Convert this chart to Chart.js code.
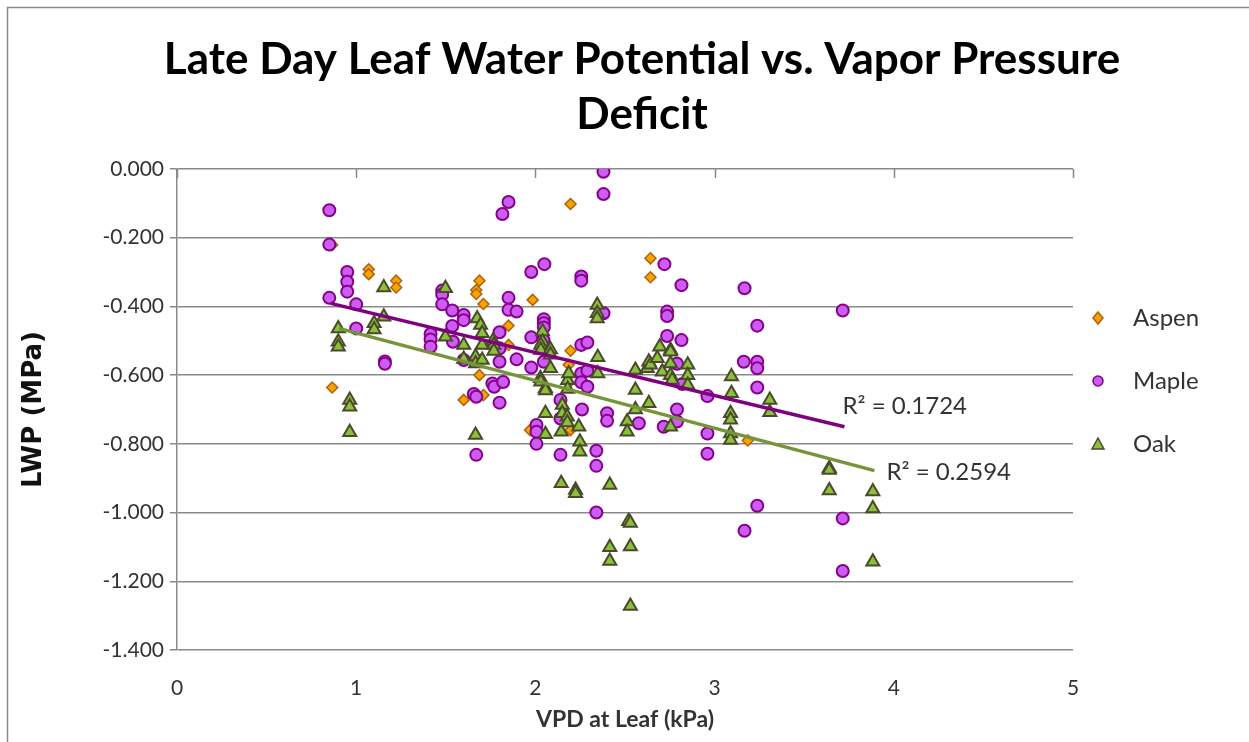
<!DOCTYPE html>
<html>
<head>
<meta charset="utf-8">
<script src="https://cdn.jsdelivr.net/npm/chart.js@4.4.1/dist/chart.umd.min.js"></script>
<style>
  html, body { margin: 0; padding: 0; background: #fff; }
  #wrap { position: relative; width: 1249px; height: 742px; }
</style>
</head>
<body>
<div id="wrap"><canvas id="lwpChart"></canvas></div>
<script>
// values (VPD in kPa, LWP in MPa)
const aspenVpd = [0.866, 0.866, 1.07, 1.07, 1.223, 1.223, 1.688, 1.67, 1.67, 1.71, 1.688, 1.60, 1.71,
  1.85, 1.85, 1.985, 1.97, 2.196, 2.196, 2.186, 2.186, 2.196, 2.642, 2.642, 3.185];
const aspenLwp = [-0.221, -0.636, -0.292, -0.306, -0.325, -0.345, -0.325, -0.352, -0.364, -0.393, -0.600, -0.672, -0.658,
  -0.456, -0.512, -0.381, -0.760, -0.102, -0.529, -0.570, -0.622, -0.760, -0.260, -0.315, -0.790];

const mapleVpd = [0.85, 0.85, 0.85, 0.95, 0.95, 0.95, 1.00, 1.00, 1.16, 1.16,
  1.48, 1.48, 1.48, 1.415, 1.415, 1.415, 1.536, 1.536, 1.54, 1.60, 1.60, 1.60,
  1.656, 1.67, 1.67, 1.76, 1.77, 1.80, 1.80, 1.80, 1.80, 1.82, 1.816, 1.85, 1.85, 1.85,
  1.895, 1.895, 1.977, 1.977, 1.977, 2.006, 2.006, 2.006, 2.05, 2.047, 2.047, 2.047, 2.045, 2.047,
  2.14, 2.14, 2.14, 2.256, 2.256, 2.256, 2.29, 2.256, 2.29, 2.256, 2.29, 2.26,
  2.34, 2.34, 2.34, 2.38, 2.38, 2.38, 2.40, 2.40, 2.577, 2.716, 2.72, 2.735, 2.735, 2.735,
  2.79, 2.79, 2.79, 2.815, 2.815, 2.82, 2.96, 2.96, 2.96, 3.167, 3.163, 3.167,
  3.238, 3.238, 3.238, 3.238, 3.238, 3.715, 3.715, 3.715];
const mapleLwp = [-0.120, -0.220, -0.375, -0.300, -0.328, -0.357, -0.394, -0.464, -0.560, -0.567,
  -0.354, -0.365, -0.394, -0.480, -0.496, -0.517, -0.412, -0.457, -0.503, -0.425, -0.440, -0.556,
  -0.655, -0.663, -0.832, -0.624, -0.634, -0.475, -0.522, -0.561, -0.680, -0.620, -0.131, -0.096, -0.375, -0.410,
  -0.415, -0.554, -0.300, -0.490, -0.578, -0.745, -0.765, -0.800, -0.277, -0.437, -0.449, -0.461, -0.498, -0.561,
  -0.672, -0.726, -0.832, -0.313, -0.325, -0.512, -0.505, -0.595, -0.587, -0.621, -0.634, -0.700,
  -0.820, -0.864, -1.000, -0.008, -0.073, -0.420, -0.711, -0.733, -0.740, -0.750, -0.277, -0.415, -0.428, -0.486,
  -0.567, -0.700, -0.735, -0.338, -0.498, -0.626, -0.661, -0.770, -0.829, -0.347, -0.561, -1.053,
  -0.456, -0.561, -0.580, -0.636, -0.980, -0.412, -1.017, -1.170];

const oakVpd = [0.90, 0.90, 0.90, 0.964, 0.964, 0.964, 1.10, 1.10, 1.154, 1.154,
  1.498, 1.498, 1.60, 1.60, 1.666, 1.666, 1.666, 1.675, 1.694, 1.703, 1.703, 1.703,
  1.764, 1.768, 1.768, 2.04, 2.04, 2.03, 2.03, 2.028, 2.03, 2.056, 2.056, 2.056, 2.056,
  2.084, 2.084, 2.084, 2.144, 2.144, 2.15, 2.15, 2.178, 2.178, 2.18, 2.18, 2.186,
  2.224, 2.224, 2.242, 2.248, 2.248, 2.345, 2.345, 2.345, 2.348, 2.348,
  2.415, 2.415, 2.415, 2.512, 2.512, 2.52, 2.53, 2.53, 2.53, 2.558, 2.558, 2.558,
  2.624, 2.633, 2.633, 2.642, 2.68, 2.694, 2.708, 2.754, 2.754, 2.754, 2.763, 2.754, 2.754,
  2.85, 2.85, 2.85, 3.094, 3.094, 3.089, 3.089, 3.089, 3.089, 3.308, 3.308,
  3.64, 3.64, 3.64, 3.883, 3.883, 3.883];
const oakLwp = [-0.464, -0.503, -0.517, -0.672, -0.692, -0.766, -0.449, -0.467, -0.345, -0.430,
  -0.347, -0.488, -0.512, -0.553, -0.546, -0.566, -0.774, -0.435, -0.454, -0.478, -0.512, -0.556,
  -0.500, -0.512, -0.530, -0.473, -0.503, -0.512, -0.527, -0.609, -0.619, -0.638, -0.645, -0.711, -0.772,
  -0.525, -0.541, -0.580, -0.765, -0.915, -0.687, -0.711, -0.721, -0.738, -0.615, -0.640, -0.595,
  -0.934, -0.944, -0.750, -0.794, -0.823, -0.396, -0.420, -0.435, -0.548, -0.595,
  -0.920, -1.101, -1.141, -0.735, -0.765, -1.025, -1.030, -1.099, -1.272, -0.585, -0.643, -0.700,
  -0.580, -0.561, -0.682, -0.570, -0.551, -0.517, -0.590, -0.527, -0.566, -0.600, -0.614, -0.750, -0.532,
  -0.570, -0.600, -0.629, -0.604, -0.653, -0.711, -0.730, -0.770, -0.789, -0.672, -0.708,
  -0.871, -0.876, -0.936, -0.939, -0.988, -1.143];

// linear trend lines as drawn in the picture (end points)
const mapleTrendVpd = [0.858, 3.725];
const mapleTrendLwp = [-0.391, -0.750];
const oakTrendVpd = [0.903, 3.892];
const oakTrendLwp = [-0.464, -0.878];
const mapleR2 = "R² = 0.1724";
const oakR2 = "R² = 0.2594";

const seriesNames = ["Aspen", "Maple", "Oak"];
const yTicks = [0, -0.2, -0.4, -0.6, -0.8, -1.0, -1.2, -1.4];

const GRID = "#898989";
const TXT = "#333333";

function pairs(xs, ys) {
  return xs.map((x, i) => ({ x: x, y: ys[i] }));
}

// frame round the whole chart, ticks on the x axis line, legend and R² texts
const extras = {
  id: "extras",
  beforeDraw(chart) {
    const ctx = chart.ctx;
    ctx.save();
    ctx.fillStyle = "#fff";
    ctx.fillRect(0, 0, chart.width, chart.height);
    ctx.strokeStyle = "#8c8c8c";
    ctx.lineWidth = 1.5;
    ctx.strokeRect(7.5, 7.5, 1280, 760);
    ctx.restore();
  },
  afterDraw(chart) {
    const ctx = chart.ctx;
    const xs = chart.scales.x, ys = chart.scales.y;
    ctx.save();
    // x axis crosses at 0, ticks point into the plot
    ctx.strokeStyle = GRID;
    ctx.lineWidth = 1.5;
    const y0 = ys.getPixelForValue(0);
    for (let v = 0; v <= 5; v++) {
      const px = Math.round(xs.getPixelForValue(v)) + 0.5;
      ctx.beginPath();
      ctx.moveTo(px, y0);
      ctx.lineTo(px, y0 + 9);
      ctx.stroke();
    }

    // R² labels next to the trend line ends
    ctx.fillStyle = TXT;
    ctx.font = "24px Lato";
    ctx.textBaseline = "middle";
    ctx.textAlign = "left";
    let ex = xs.getPixelForValue(mapleTrendVpd[1]);
    let ey = ys.getPixelForValue(mapleTrendLwp[1]);
    ctx.fillText(mapleR2, ex - 2, ey - 20);
    ex = xs.getPixelForValue(oakTrendVpd[1]);
    ey = ys.getPixelForValue(oakTrendLwp[1]);
    ctx.fillText(oakR2, ex + 12, ey + 2);

    // legend
    const lx = 1098;
    const ly = [318, 381, 444];
    chart.data.datasets.slice(0, 3).forEach((ds, i) => {
      ctx.fillStyle = ds.backgroundColor;
      ctx.strokeStyle = ds.borderColor;
      ctx.lineWidth = 1.5;
      ctx.beginPath();
      if (ds.pointStyle === "rectRot") {
        ctx.moveTo(lx, ly[i] - 6);
        ctx.lineTo(lx + 5, ly[i]);
        ctx.lineTo(lx, ly[i] + 6);
        ctx.lineTo(lx - 5, ly[i]);
        ctx.closePath();
      } else if (ds.pointStyle === "circle") {
        ctx.arc(lx, ly[i], 5, 0, Math.PI * 2);
      } else {
        ctx.moveTo(lx, ly[i] - 6);
        ctx.lineTo(lx + 6, ly[i] + 5);
        ctx.lineTo(lx - 6, ly[i] + 5);
        ctx.closePath();
      }
      ctx.fill();
      ctx.stroke();
      ctx.fillStyle = TXT;
      ctx.fillText(seriesNames[i], lx + 35, ly[i]);
    });
    ctx.restore();
  }
};

new Chart(document.getElementById("lwpChart"), {
  type: "scatter",
  data: {
    datasets: [
      {
        label: seriesNames[0],
        data: pairs(aspenVpd, aspenLwp),
        pointStyle: "rectRot",
        pointRadius: 5.5,
        backgroundColor: "#f5a400",
        borderColor: "#b5600c",
        borderWidth: 1.5,
        order: 3
      },
      {
        label: seriesNames[1],
        data: pairs(mapleVpd, mapleLwp),
        pointStyle: "circle",
        pointRadius: 6,
        backgroundColor: "#cc5cf2",
        borderColor: "#86008a",
        borderWidth: 2,
        order: 2
      },
      {
        label: seriesNames[2],
        data: pairs(oakVpd, oakLwp),
        pointStyle: "triangle",
        pointRadius: 7.5,
        backgroundColor: "#8cbf3a",
        borderColor: "#4a4a2c",
        borderWidth: 2,
        order: 1
      },
      {
        label: "Maple trend",
        data: pairs(mapleTrendVpd, mapleTrendLwp),
        showLine: true,
        pointRadius: 0,
        borderColor: "#800080",
        borderWidth: 3.5,
        order: 0
      },
      {
        label: "Oak trend",
        data: pairs(oakTrendVpd, oakTrendLwp),
        showLine: true,
        pointRadius: 0,
        borderColor: "#76953a",
        borderWidth: 3.5,
        order: 0
      }
    ]
  },
  options: {
    responsive: true,
    maintainAspectRatio: false,
    animation: false,
    layout: { padding: { left: 35, right: 0, top: 0, bottom: 0 } },
    plugins: {
      legend: { display: false },
      tooltip: { enabled: false },
      title: {
        display: true,
        text: ["Late Day Leaf Water Potential vs. Vapor Pressure", "Deficit"],
        color: "#000",
        font: { family: "Lato", size: 44, weight: "bold", lineHeight: 1.25 },
        padding: { top: 32, bottom: 27 }
      }
    },
    scales: {
      x: {
        type: "linear",
        position: "bottom",
        min: 0,
        max: 5,
        afterFit: (s) => { s.height = 92; },
        grid: { display: false, drawTicks: false },
        border: { display: false },
        ticks: {
          stepSize: 1,
          padding: 26,
          color: TXT,
          font: { family: "Lato", size: 21 },
          callback: (v) => String(v)
        },
        title: {
          display: true,
          text: "VPD at Leaf (kPa)",
          color: TXT,
          font: { family: "Lato", size: 23, weight: "bold", lineHeight: 1.2 },
          padding: { top: 0, bottom: 9 }
        }
      },
      y: {
        type: "linear",
        min: -1.4,
        max: 0,
        afterFit: (s) => { s.width = 142; },
        afterBuildTicks: (s) => { s.ticks = yTicks.map((v) => ({ value: v })); },
        grid: { color: GRID, lineWidth: 1.5, tickLength: 7, drawTicks: true },
        border: { display: true, color: GRID, width: 1.5 },
        ticks: {
          padding: 6,
          color: TXT,
          font: { family: "Lato", size: 21 },
          callback: (v) => (Math.abs(v) < 1e-9 ? "0.000" : Number(v).toFixed(3))
        },
        title: {
          display: true,
          text: "LWP (MPa)",
          color: "#111",
          font: { family: "DejaVu Sans", size: 26, weight: "bold", lineHeight: 1.2 },
          padding: { top: -16, bottom: 0 }
        }
      },
      // empty right-hand space that holds the legend
      yRight: {
        type: "linear",
        position: "right",
        min: -1.4,
        max: 0,
        afterFit: (s) => { s.width = 176; },
        grid: { display: false, drawTicks: false },
        border: { display: false },
        ticks: { display: false }
      }
    }
  },
  plugins: [extras]
});
</script>
</body>
</html>
